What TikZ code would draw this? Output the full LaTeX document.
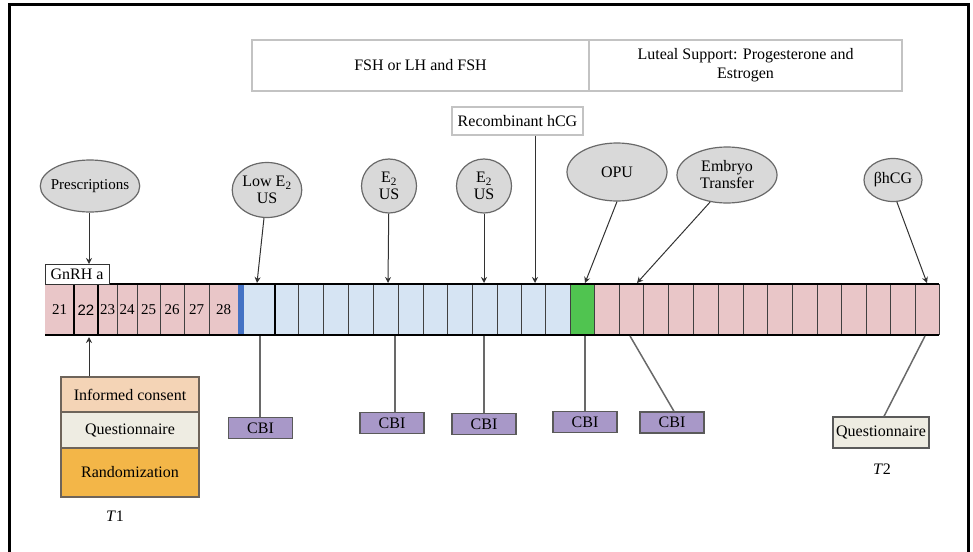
\documentclass[tikz,border=0pt]{standalone}
\usepackage{fontspec}
\setmainfont{Liberation Serif}
\newfontfamily\cellsans{Liberation Sans}
\usetikzlibrary{arrows.meta,shapes.geometric}
\definecolor{pinkc}{RGB}{233,198,200}
\definecolor{lblue}{RGB}{214,228,243}
\definecolor{bbar}{RGB}{68,114,196}
\definecolor{gbar}{RGB}{80,196,80}
\definecolor{ellf}{RGB}{217,217,217}
\definecolor{ellb}{RGB}{105,105,105}
\definecolor{cbif}{RGB}{168,152,200}
\definecolor{cbib}{RGB}{90,90,90}
\definecolor{icf}{RGB}{244,212,182}
\definecolor{qf}{RGB}{238,236,226}
\definecolor{rf}{RGB}{243,182,72}
\definecolor{stackb}{RGB}{110,100,90}
\definecolor{topb}{RGB}{195,195,195}
\definecolor{linec}{RGB}{50,50,50}
\definecolor{conc}{RGB}{105,105,105}
\begin{document}
\begin{tikzpicture}[x=1pt,y=-1pt,
  every node/.style={font=\fontsize{16}{17}\selectfont},
  ell/.style={ellipse, draw=ellb, fill=ellf, line width=1.2pt, inner sep=0pt, align=center},
  cbi/.style={rectangle, draw=cbib, fill=cbif, line width=1.3pt, minimum width=64pt, minimum height=21pt, inner sep=0pt},
  topbox/.style={rectangle, draw=topb, fill=white, line width=1.2pt, minimum height=51pt, inner sep=0pt, align=center},
  stackbox/.style={rectangle, draw=stackb, line width=1.2pt, minimum width=138pt, inner sep=0pt},
  arr/.style={draw=linec, line width=1pt, -{Stealth[length=6pt,width=6pt]}},
  conn/.style={draw=conc, line width=1.5pt},
  sep/.style={draw=black!75, line width=0.8pt},
  thicksep/.style={draw=black, line width=2.6pt},
  num/.style={font=\fontsize{15}{15}\selectfont, inner sep=0pt}]
\useasboundingbox (0,0) rectangle (973,551);
% frame
\draw[line width=3pt] (9,553) -- (9,5) -- (968,5) -- (968,553);

% top boxes
\node[topbox, minimum width=337pt] (fsh) at (420.5,65.5) {FSH or LH and FSH};
\node[topbox, minimum width=313pt, font=\fontsize{16}{19}\selectfont] (lut) at (745.5,65.5) {Luteal Support: Progesterone and\\Estrogen};
\node[rectangle, draw=topb, fill=white, line width=1.2pt, minimum width=131pt, minimum height=28pt, inner sep=0pt] (rec) at (517.5,121) {Recombinant hCG};

% ellipses
\node[ell, inner xsep=-4pt, minimum width=92pt, minimum height=52pt, font=\fontsize{15}{16}\selectfont] (pres) at (90,186) {Prescriptions};
\node[ell, minimum width=65pt, minimum height=55pt] (low) at (267,190) {Low E\textsubscript{2}\\US};
\node[ell, minimum width=55pt, minimum height=54pt] (e2a) at (389,186) {E\textsubscript{2}\\US};
\node[ell, minimum width=55pt, minimum height=54pt] (e2b) at (484,186) {E\textsubscript{2}\\US};
\node[ell, minimum width=100pt, minimum height=58pt] (opu) at (617,172) {OPU};
\node[ell, minimum width=100pt, minimum height=56pt] (et) at (727,175) {Embryo\\Transfer};
\node[ell, minimum width=58pt, minimum height=43pt] (bhcg) at (893,180) {βhCG};

% strip fills
\fill[pinkc] (45,284) rectangle (238,335);
\fill[bbar] (238,284) rectangle (244,335);
\fill[lblue] (244,284) rectangle (570,335);
\fill[gbar] (570,284) rectangle (594,335);
\fill[pinkc] (594,284) rectangle (939,335);
% separators
\foreach \x in {117,137,160,184,209,298,323,348,373,398,423,447,472,497,521,545,570,594,619,643,668,693,718,743,767,792,817,841,866,890,915,939}
  \draw[sep] (\x,284) -- (\x,335);
\foreach \x in {74,98,275}
  \draw[thicksep] (\x,284) -- (\x,335);
\draw[line width=2.8pt] (45,284) -- (939,284);
\draw[line width=2.8pt] (45,335) -- (939,335);
% numbers
\node[num] (d21) at (59.5,310) {21};
\node[num, font=\cellsans\fontsize{15}{15}\selectfont] (d22) at (86,310) {22};
\node[num] (d23) at (107.5,310) {23};
\node[num] (d24) at (127,310) {24};
\node[num] (d25) at (148.5,310) {25};
\node[num] (d26) at (172,310) {26};
\node[num] (d27) at (196.5,310) {27};
\node[num] (d28) at (223.5,310) {28};

% GnRH a
\node[rectangle, draw=black!80, fill=white, line width=0.9pt, minimum width=64pt, minimum height=20pt, inner sep=0pt] (gnrh) at (77,274) {GnRH a};

% strip coordinates
\coordinate (tPres) at (89,264);
\coordinate (tLow) at (257,283);
\coordinate (tE2a) at (388,283);
\coordinate (tE2b) at (484,283);
\coordinate (tRec) at (535,283);
\coordinate (tOpu) at (585,283);
\coordinate (tEt) at (637,283);
\coordinate (tBh) at (927,283);
\coordinate (bIC) at (89,337);
\coordinate (bC1) at (260,336);
\coordinate (bC2) at (395,336);
\coordinate (bC3) at (484,336);
\coordinate (bC4) at (585,336);
\coordinate (bC5) at (630,336);
\coordinate (bQ2) at (925,336);

% bottom boxes
\node[stackbox, fill=icf, minimum height=35pt] (ic) at (130,394.5) {Informed consent};
\node[stackbox, fill=qf, minimum height=36pt] (q1) at (130,430) {Questionnaire};
\node[stackbox, fill=rf, minimum height=49pt] (rand) at (130,472.5) {Randomization};
\node (t1) at (115,516) {\textit{T}1};

\node[cbi] (cbi1) at (260.5,428) {CBI};
\node[cbi] (cbi2) at (392,423) {CBI};
\node[cbi] (cbi3) at (484,424) {CBI};
\node[cbi] (cbi4) at (585,422) {CBI};
\node[cbi] (cbi5) at (672,422.5) {CBI};
\node[rectangle, draw=cbib, fill=qf, line width=1.3pt, minimum width=96pt, minimum height=31pt, inner sep=0pt] (q2) at (881,432.5) {Questionnaire};
\node (t2) at (882,469) {\textit{T}2};

% connectors top
\draw[arr] (tPres |- pres.south) -- (tPres);
\draw[arr] (low) -- (tLow);
\draw[arr] (e2a) -- (tE2a);
\draw[arr] (e2b) -- (tE2b);
\draw[arr] (tRec |- rec.south) -- (tRec);
\draw[arr] (opu.south) -- (tOpu);
\draw[arr] (et.238) -- (tEt);
\draw[arr] (bhcg.280) -- (tBh);
% connectors bottom
\draw[arr] (bIC |- ic.north) -- (bIC);
\draw[conn] (bC1) -- (bC1 |- cbi1.north);
\draw[conn] (bC2) -- (bC2 |- cbi2.north);
\draw[conn] (bC3) -- (bC3 |- cbi3.north);
\draw[conn] (bC4) -- (bC4 |- cbi4.north);
\draw[conn] (bC5) -- ([xshift=2pt]cbi5.north);
\draw[conn] (bQ2) -- ([xshift=3pt]q2.north);
\end{tikzpicture}
\end{document}
